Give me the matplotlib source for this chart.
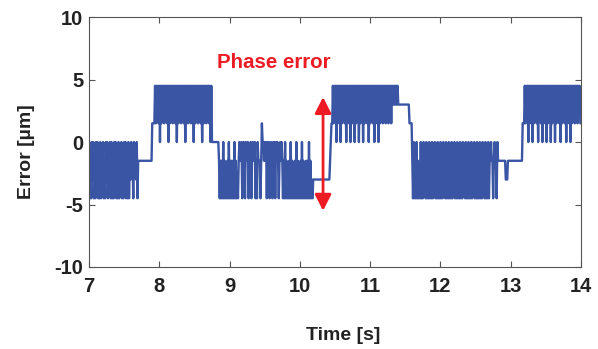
import numpy as np
import matplotlib
matplotlib.use("Agg")
import matplotlib.pyplot as plt

# error samples, one char per 10 ms sample
# quantised in 1.5 um counts: '0' = -4.5, '3' = 0, '6' = +4.5
T0 = 7.0
DT = 0.01
STEP_UM = 1.5

low_a = ("3020313020" "3130203021" "3020313021" "3030203130"
         "2030213020" "3130203021" "3220322130" "22")
hold_a = "2" * 18 + "4" * 4
high_a = ("6465646364" "6564656463" "6465646564" "6364656465"
          "6463656465" "6465636465" "6465646364" "6564656463" "6")
hold_b = "3" * 10
low_b = ("2020203020" "1020302020" "20302010"
         "2322302320" "3223022302" "3223020322" "202"
         "43"
         "3232303230" "2320323032" "3202323"
         "2020302010" "2030201020" "3020102030" "2010202030" "2010")
hold_c = "1" * 24 + "2344"
high_b = ("6465636465" "6364656463" "6564636465" "6364656364"
          "6563646564" "6364656463" "6564636465" "6465646564"
          "6564656565" "656")
hold_d = "5" * 16 + "4" * 4
low_c = ("2030203020" "1030203120" "3020302030" "2130203020"
         "3020312030" "2030203021" "3020302030" "2031203020"
         "3020302130" "2030203020" "3120302030"
         "2232202322" "03222")
hold_e = "2" * 8 + "111" + "2" * 21 + "444"
high_c = ("6465636465" "6364656463" "6564636465" "6364656364"
          "6563646564" "6364656463" "6564636465" "6465646564" "4")

trace = low_a + hold_a + high_a + hold_b + low_b + hold_c + high_b + hold_d + low_c + hold_e + high_c
err = (np.array([int(c) for c in trace]) - 3) * STEP_UM
t = T0 + DT * np.arange(len(err))

arrow_x = 10.33
arrow_y = (-5.5, 3.6)

blue = "#3a55a4"
red = "#ed1c24"

plt.rcParams['font.family'] = ['Liberation Sans', 'DejaVu Sans']
plt.rcParams['font.weight'] = 'bold'
plt.rcParams['axes.labelweight'] = 'bold'
plt.rcParams['axes.unicode_minus'] = False

fig = plt.figure(figsize=(5.98, 3.49), dpi=100)
ax = fig.add_axes([0.1488, 0.235, 0.8228, 0.716])

ax.plot(t, err, color=blue, lw=1.7)

ax.annotate('', xy=(arrow_x, arrow_y[1]), xytext=(arrow_x, arrow_y[0]),
            arrowprops=dict(arrowstyle='<|-|>,head_length=0.65,head_width=0.33',
                            color=red, lw=2.0, mutation_scale=15,
                            shrinkA=0, shrinkB=0))
ax.text(9.63, 6.4, 'Phase error', color=red, fontsize=14.8, fontweight='bold',
        ha='center', va='center')

ax.set_xlim(7, 14)
ax.set_ylim(-10, 10)
ax.set_xticks(range(7, 15))
ax.set_yticks([-10, -5, 0, 5, 10])

for s in ax.spines.values():
    s.set_color('#555555')
    s.set_linewidth(0.8)
ax.tick_params(direction='in', top=True, right=True, length=4, width=0.8,
               color='#555555', labelsize=14.5, labelcolor='#222222')
ax.tick_params(axis='x', pad=7)
ax.tick_params(axis='y', pad=4)

ax.set_xlabel('Time [s]', fontsize=14, color='#222222')
ax.set_ylabel('Error [µm]', fontsize=14, color='#222222')
ax.xaxis.set_label_coords(0.516, -0.24)
ax.yaxis.set_label_coords(-0.11, 0.46)

fig.savefig('out.png', dpi=100)
